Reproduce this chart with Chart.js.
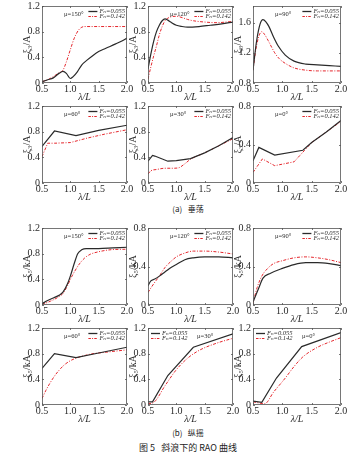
<!DOCTYPE html>
<html>
<head>
<meta charset="utf-8">
<script src="https://cdn.jsdelivr.net/npm/chart.js@4.4.0/dist/chart.umd.min.js"></script>
<style>
  body { margin: 0; background: #fff; }
  #fig { position: relative; width: 364px; height: 455px; overflow: hidden; background: #fff; }
  .cap { position: absolute; left: 6px; width: 364px; text-align: center; color: #222;
         font-family: 'Noto Sans CJK SC', sans-serif; white-space: pre; }
</style>
</head>
<body>
<div id="fig">
  <div class="cap" style="top:203px;font-size:8px;">(a)   垂荡</div>
  <div class="cap" style="top:427px;font-size:8px;">(b)   纵摇</div>
  <div class="cap" style="top:441px;font-size:9px;">图 5   斜浪下的 RAO 曲线</div>
</div>
<script>
// heave, xi3/A  -- [lambda/L, value]
const heave150_055 = [[0.5,0.02],[0.6,0.05],[0.7,0.08],[0.8,0.15],[0.87,0.18],[0.93,0.15],[1.0,0.07],[1.05,0.1],[1.12,0.17],[1.2,0.28],[1.3,0.36],[1.4,0.43],[1.5,0.49],[1.6,0.53],[1.7,0.57],[1.8,0.61],[1.9,0.65],[2.0,0.7]];
const heave150_142 = [[0.5,0.02],[0.6,0.05],[0.7,0.1],[0.8,0.16],[0.87,0.2],[0.93,0.33],[1.0,0.52],[1.07,0.7],[1.15,0.83],[1.25,0.88],[1.5,0.88],[2.0,0.88]];
const heave120_055 = [[0.5,0.22],[0.55,0.45],[0.6,0.65],[0.65,0.8],[0.7,0.9],[0.75,0.97],[0.8,1.0],[0.85,0.98],[0.9,0.95],[1.0,0.9],[1.1,0.88],[1.2,0.87],[1.4,0.88],[1.6,0.9],[1.8,0.92],[2.0,0.95]];
const heave120_142 = [[0.5,0.06],[0.55,0.25],[0.6,0.42],[0.65,0.58],[0.7,0.75],[0.75,0.88],[0.8,0.97],[0.85,1.01],[0.9,1.03],[1.0,1.04],[1.1,1.02],[1.2,0.99],[1.3,0.97],[1.5,0.95],[1.7,0.94],[2.0,0.96]];
const heave90_055 = [[0.5,0.97],[0.56,1.35],[0.62,1.58],[0.67,1.64],[0.72,1.61],[0.77,1.55],[0.85,1.41],[0.93,1.29],[1.05,1.17],[1.2,1.09],[1.4,1.05],[1.6,1.04],[1.8,1.03],[2.0,1.02]];
const heave90_142 = [[0.5,0.97],[0.55,1.25],[0.6,1.42],[0.65,1.48],[0.7,1.44],[0.76,1.36],[0.87,1.2],[0.95,1.12],[1.05,1.06],[1.2,1.0],[1.4,0.97],[1.6,0.96],[2.0,0.96]];
const heave60_055 = [[0.5,0.57],[0.72,0.81],[1.1,0.74],[1.5,0.82],[2.0,0.9]];
const heave60_142 = [[0.5,0.41],[0.6,0.62],[0.72,0.62],[1.0,0.63],[1.3,0.7],[1.6,0.76],[2.0,0.83]];
const heave30_055 = [[0.5,0.34],[0.58,0.43],[0.62,0.42],[0.85,0.34],[1.0,0.35],[1.25,0.38],[1.5,0.47],[1.75,0.58],[2.0,0.71]];
const heave30_142 = [[0.5,0.14],[0.55,0.19],[0.65,0.21],[0.8,0.23],[0.95,0.23],[1.05,0.24],[1.15,0.3],[1.25,0.37],[1.5,0.47],[1.75,0.58],[2.0,0.69]];
const heave0_055 = [[0.5,0.23],[0.6,0.37],[0.87,0.29],[1.35,0.34],[1.5,0.42],[1.75,0.53],[2.0,0.65]];
const heave0_142 = [[0.5,0.11],[0.66,0.25],[0.87,0.18],[1.2,0.22],[1.35,0.32],[1.5,0.42],[1.75,0.53],[2.0,0.64]];

// pitch, xi5/kA
const pitch150_055 = [[0.5,0.02],[0.6,0.07],[0.7,0.11],[0.8,0.15],[0.87,0.2],[0.95,0.33],[1.0,0.45],[1.07,0.65],[1.13,0.8],[1.2,0.86],[1.28,0.88],[1.5,0.88],[1.75,0.89],[2.0,0.9]];
const pitch150_142 = [[0.5,0.01],[0.65,0.06],[0.8,0.13],[0.87,0.18],[0.95,0.3],[1.0,0.4],[1.08,0.53],[1.16,0.64],[1.25,0.73],[1.35,0.79],[1.5,0.83],[1.7,0.86],[2.0,0.87]];
const pitch120_055 = [[0.5,0.2],[0.55,0.25],[0.62,0.27],[0.7,0.3],[0.77,0.33],[0.88,0.38],[1.0,0.42],[1.15,0.47],[1.3,0.49],[1.5,0.5],[1.75,0.5],[2.0,0.49]];
const pitch120_142 = [[0.5,0.13],[0.6,0.22],[0.7,0.3],[0.8,0.39],[0.9,0.45],[1.0,0.5],[1.15,0.54],[1.3,0.56],[1.5,0.56],[1.75,0.55],[2.0,0.53]];
const pitch90_055 = [[0.5,0.03],[0.6,0.18],[0.67,0.28],[0.8,0.33],[1.0,0.38],[1.2,0.42],[1.4,0.44],[1.6,0.44],[1.8,0.43],[2.0,0.41]];
const pitch90_142 = [[0.5,0.02],[0.57,0.18],[0.65,0.3],[0.75,0.38],[0.85,0.43],[1.0,0.46],[1.2,0.49],[1.4,0.5],[1.6,0.49],[1.8,0.47],[2.0,0.44]];
const pitch60_055 = [[0.5,0.57],[0.72,0.8],[1.1,0.74],[1.5,0.81],[2.0,0.9]];
const pitch60_142 = [[0.5,0.1],[0.57,0.23],[0.64,0.34],[0.72,0.45],[0.8,0.54],[0.9,0.63],[1.0,0.69],[1.1,0.73],[1.25,0.77],[1.4,0.8],[1.6,0.82],[1.8,0.84],[2.0,0.86]];
const pitch30_055 = [[0.5,0.05],[0.58,0.05],[0.85,0.46],[1.3,0.9],[2.0,1.11]];
const pitch30_142 = [[0.5,0.02],[0.6,0.04],[0.8,0.3],[1.0,0.55],[1.2,0.73],[1.4,0.85],[1.7,0.96],[2.0,1.04]];
const pitch0_055 = [[0.5,0.06],[0.65,0.04],[0.9,0.42],[1.33,0.91],[2.0,1.13]];
const pitch0_142 = [[0.5,0.05],[0.7,0.02],[0.85,0.2],[1.05,0.42],[1.2,0.6],[1.35,0.75],[1.6,0.9],[1.8,0.98],[2.0,1.05]];

const xTicks = [0.5, 1.0, 1.5, 2.0];
const yTicks12 = [0, 0.4, 0.8, 1.2];
const yTicks08 = [0, 0.4, 0.8];
const yTicksHigh = [0.8, 1.2, 1.6];
const muLabels = ['μ=150°', 'μ=120°', 'μ=90°', 'μ=60°', 'μ=30°', 'μ=0°'];
const seriesLabels = ['Fₙ=0.055', 'Fₙ=0.142'];
const heaveTitle = 'ξ₃/A';
const pitchTitle = 'ξ₅/kA';

const panels = [
  { b: heave150_055, r: heave150_142, mu: 0, title: heaveTitle, ticks: yTicks12, min: 0, max: 1.2, smooth: [1, 1] },
  { b: heave120_055, r: heave120_142, mu: 1, title: heaveTitle, ticks: yTicks12, min: 0, max: 1.2, smooth: [1, 1] },
  { b: heave90_055, r: heave90_142, mu: 2, title: heaveTitle, ticks: yTicksHigh, min: 0.8, max: 1.82, smooth: [1, 1] },
  { b: heave60_055, r: heave60_142, mu: 3, title: heaveTitle, ticks: yTicks12, min: 0, max: 1.2, smooth: [0, 0] },
  { b: heave30_055, r: heave30_142, mu: 4, title: heaveTitle, ticks: yTicks12, min: 0, max: 1.2, smooth: [0, 1] },
  { b: heave0_055, r: heave0_142, mu: 5, title: heaveTitle, ticks: yTicks08, min: 0, max: 0.8, smooth: [0, 0] },
  { b: pitch150_055, r: pitch150_142, mu: 0, title: pitchTitle, ticks: yTicks12, min: 0, max: 1.2, smooth: [1, 1] },
  { b: pitch120_055, r: pitch120_142, mu: 1, title: pitchTitle, ticks: yTicks08, min: 0, max: 0.8, smooth: [1, 1] },
  { b: pitch90_055, r: pitch90_142, mu: 2, title: pitchTitle, ticks: yTicks08, min: 0, max: 0.8, smooth: [1, 1] },
  { b: pitch60_055, r: pitch60_142, mu: 3, title: pitchTitle, ticks: yTicks12, min: 0, max: 1.2, smooth: [0, 1] },
  { b: pitch30_055, r: pitch30_142, mu: 4, title: pitchTitle, ticks: yTicks12, min: 0, max: 1.2, smooth: [0, 1], legendLeft: true },
  { b: pitch0_055, r: pitch0_142, mu: 5, title: pitchTitle, ticks: yTicks12, min: 0, max: 1.2, smooth: [0, 1], legendLeft: true }
];

const colLeft = [42, 148, 253];
const colWidth = [85, 85, 88];
const rowTop = [6, 106, 228, 328];
const plotH = 77;
const AXW = 26, AXH = 22, PT = 8, PR = 10;
const SERIF = "'Liberation Serif', 'DejaVu Serif', serif";
const INK = '#2a2a2a';
const RED = '#e5262c';

const panelPlugin = {
  id: 'panel',
  afterDraw(chart, args, opts) {
    const { ctx, chartArea: a } = chart;
    const xs = chart.scales.x, ys = chart.scales.y;
    ctx.save();
    ctx.strokeStyle = '#555';
    ctx.lineWidth = 0.8;
    ctx.strokeRect(a.left + 0.5, a.top + 0.5, a.right - a.left - 1, a.bottom - a.top - 1);
    ctx.beginPath();
    xs.ticks.forEach(t => {
      const x = Math.round(xs.getPixelForValue(t.value)) + 0.5;
      ctx.moveTo(x, a.bottom); ctx.lineTo(x, a.bottom - 2);
      ctx.moveTo(x, a.top); ctx.lineTo(x, a.top + 2);
    });
    ys.ticks.forEach(t => {
      const y = Math.round(ys.getPixelForValue(t.value)) + 0.5;
      ctx.moveTo(a.left, y); ctx.lineTo(a.left + 2, y);
      ctx.moveTo(a.right, y); ctx.lineTo(a.right - 2, y);
    });
    ctx.stroke();

    // legend
    ctx.font = 'italic 6.5px ' + SERIF;
    ctx.textBaseline = 'middle';
    ctx.fillStyle = INK;
    const tw = Math.max(...seriesLabels.map(s => ctx.measureText(s).width));
    const tx = opts.legendLeft ? a.left + 14 : a.right - 2 - tw;
    const rows = [a.top + 5.5, a.top + 10.5];
    rows.forEach((y, k) => {
      ctx.beginPath();
      ctx.strokeStyle = k ? RED : INK;
      ctx.lineWidth = k ? 1 : 1.3;
      ctx.setLineDash(k ? [2.5, 1.2, 1, 1.2] : []);
      ctx.moveTo(tx - 11, y); ctx.lineTo(tx - 2, y);
      ctx.stroke();
      ctx.setLineDash([]);
      ctx.fillText(seriesLabels[k], tx, y);
    });

    // heading angle
    ctx.font = '6.5px ' + SERIF;
    ctx.fillText(opts.mu, opts.legendLeft ? a.left + 49 : a.left + 22, a.top + 8);
    ctx.restore();
  }
};

const fig = document.getElementById('fig');

panels.forEach((p, i) => {
  const row = Math.floor(i / 3), col = i % 3;
  const w = AXW + colWidth[col] + PR, h = PT + plotH + AXH;
  const cv = document.createElement('canvas');
  cv.width = w; cv.height = h;
  cv.style.cssText = `position:absolute;left:${colLeft[col] - AXW}px;top:${rowTop[row] - PT}px;width:${w}px;height:${h}px`;
  fig.appendChild(cv);

  const line = (pts, k) => ({
    data: pts.map(([x, y]) => ({ x, y })),
    borderColor: k ? RED : INK,
    borderWidth: k ? 1 : 1.2,
    borderDash: k ? [3, 1.5, 1, 1.5] : [],
    pointRadius: 0,
    tension: p.smooth[k] ? 0.4 : 0,
    cubicInterpolationMode: p.smooth[k] ? 'monotone' : 'default'
  });

  new Chart(cv, {
    type: 'line',
    data: { datasets: [line(p.b, 0), line(p.r, 1)] },
    options: {
      responsive: false,
      animation: false,
      events: [],
      layout: { padding: { top: PT, right: PR, left: 0, bottom: 0 } },
      plugins: {
        legend: { display: false },
        tooltip: { enabled: false },
        panel: { mu: muLabels[p.mu], legendLeft: !!p.legendLeft }
      },
      scales: {
        x: {
          type: 'linear', min: 0.5, max: 2.0,
          afterBuildTicks: s => { s.ticks = xTicks.map(v => ({ value: v })); },
          afterFit: s => { s.height = AXH; },
          grid: { display: false, drawTicks: false }, border: { display: false },
          ticks: { padding: 0, maxRotation: 0, color: INK, font: { family: SERIF, size: 10 },
                   callback: v => v.toFixed(1) },
          title: { display: true, text: 'λ/L', color: INK, padding: { top: 0, bottom: 2 },
                   font: { family: SERIF, size: 10, style: 'italic' } }
        },
        y: {
          min: p.min, max: p.max,
          afterBuildTicks: s => { s.ticks = p.ticks.map(v => ({ value: v })); },
          afterFit: s => { s.width = AXW; },
          grid: { display: false, drawTicks: false }, border: { display: false },
          ticks: { padding: 2, color: INK, font: { family: SERIF, size: 10 },
                   callback: v => v === 0 ? '0' : v.toFixed(1) },
          title: { display: true, text: p.title, color: INK, padding: { top: 5, bottom: 0 },
                   font: { family: SERIF, size: 10 } }
        }
      }
    },
    plugins: [panelPlugin]
  });
});
</script>
</body>
</html>
